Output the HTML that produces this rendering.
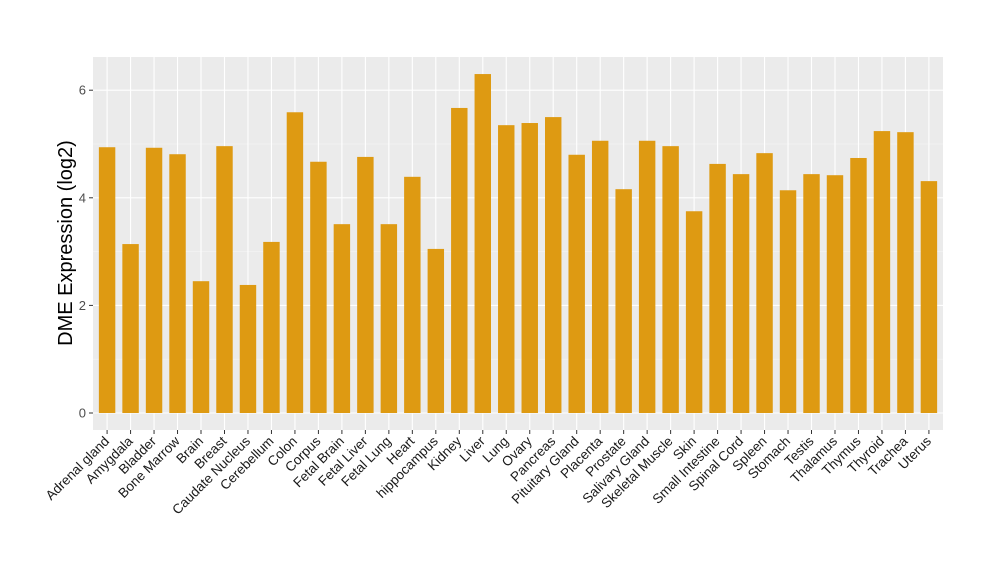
<!DOCTYPE html>
<html><head><meta charset="utf-8"><style>html,body{margin:0;padding:0;background:#fff}</style></head>
<body>
<svg id="s" width="1000" height="580" xmlns="http://www.w3.org/2000/svg" font-family="Liberation Sans, sans-serif">
<rect x="93" y="57" width="850" height="373" fill="#EBEBEB"/>
<g id="g"></g>
</svg>
<script>
const names=["Adrenal gland","Amygdala","Bladder","Bone Marrow","Brain","Breast","Caudate Nucleus","Cerebellum","Colon","Corpus","Fetal Brain","Fetal Liver","Fetal Lung","Heart","hippocampus","Kidney","Liver","Lung","Ovary","Pancreas","Pituitary Gland","Placenta","Prostate","Salivary Gland","Skeletal Muscle","Skin","Small Intestine","Spinal Cord","Spleen","Stomach","Testis","Thalamus","Thymus","Thyroid","Trachea","Uterus"];
const v=[4.94,3.14,4.93,4.81,2.45,4.96,2.38,3.18,5.59,4.67,3.51,4.76,3.51,4.39,3.05,5.67,6.30,5.35,5.39,5.50,4.80,5.06,4.16,5.06,4.96,3.75,4.63,4.44,4.83,4.14,4.44,4.42,4.74,5.24,5.22,4.31];
const y0=413,k=53.8,L=93,R=943,n=names.length,bw=(R-L)/(n-1+1.2);
let h="";
for(let i=1;i<=5;i+=2){const y=y0-i*k;h+=`<line x1="${L}" x2="${R}" y1="${y}" y2="${y}" stroke="#F5F5F5" stroke-width="0.6"/>`;}
for(let i=0;i<=6;i+=2){const y=y0-i*k;h+=`<line x1="${L}" x2="${R}" y1="${y}" y2="${y}" stroke="#fff" stroke-width="1.1"/>`;
h+=`<line x1="89" x2="93" y1="${y}" y2="${y}" stroke="#333" stroke-width="1"/>`;
h+=`<text x="86" y="${y+4.5}" font-size="13" text-anchor="end" fill="#4D4D4D">${i}</text>`;}
names.forEach((nm,i)=>{const cx=L+(0.6+i)*bw;
h+=`<line x1="${cx}" x2="${cx}" y1="57" y2="430" stroke="#fff" stroke-width="1.1"/>`;});
names.forEach((nm,i)=>{const cx=L+(0.6+i)*bw,top=y0-v[i]*k;
h+=`<rect x="${cx-0.35*bw}" y="${top}" width="${0.7*bw}" height="${y0-top}" fill="#DE9A12"/>`;
h+=`<line x1="${cx}" x2="${cx}" y1="430" y2="434" stroke="#333" stroke-width="1"/>`;
h+=`<text transform="translate(${cx+3},${442}) rotate(-45)" font-size="13.5" text-anchor="end" fill="#1a1a1a">${nm}</text>`;});
h+=`<text transform="translate(72,243) rotate(-90)" font-size="20" text-anchor="middle" fill="#000">DME Expression (log2)</text>`;
document.getElementById("g").innerHTML=h;
</script>
</body></html>
